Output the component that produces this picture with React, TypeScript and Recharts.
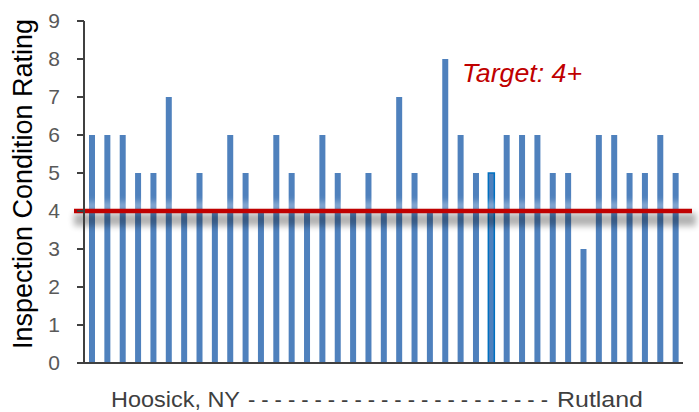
import React from 'react';
import { BarChart, Bar, XAxis, YAxis, ReferenceLine, Cell } from 'recharts';

// bridges along the route, Hoosick NY -> Rutland
const bridges = [
  '1', '2', '3', '4', '5', '6', '7', '8', '9', '10',
  '11', '12', '13', '14', '15', '16', '17', '18', '19', '20',
  '21', '22', '23', '24', '25', '26', '27', '28', '29', '30',
  '31', '32', '33', '34', '35', '36', '37', '38', '39',
];
const ratings = [
  6, 6, 6, 5, 5, 7, 4, 5, 4, 6,
  5, 4, 6, 5, 4, 6, 5, 4, 5, 4,
  7, 5, 4, 8, 6, 5, 5, 6, 6, 6,
  5, 5, 3, 6, 6, 5, 5, 6, 5,
];
const yTicks = [0, 1, 2, 3, 4, 5, 6, 7, 8, 9];
const target = 4;
const highlightedBridge = '27';

const data = bridges.map((b, i) => ({ bridge: b, rating: ratings[i] }));

const BAR = '#4F81BD';
const RED = '#C00000';
const AXIS = '#404040';
const FONT = '"Liberation Sans", Arial, sans-serif';

const TargetLine = (props: any) => {
  const { x1, x2, y1 } = props;
  const left = x1 - 10;
  const right = x2 + 9;
  return (
    <g>
      <defs>
        <filter id="lineShadow" x="-5%" y="-200%" width="110%" height="500%">
          <feGaussianBlur stdDeviation="3" />
        </filter>
      </defs>
      <rect x={left} y={y1 - 9} width={right - left + 4} height={8} fill="#ffffff" opacity={0.35} filter="url(#lineShadow)" />
      <rect x={left} y={y1 + 2} width={right - left + 4} height={13} fill="#000000" opacity={0.3} filter="url(#lineShadow)" />
      <line x1={left} x2={right} y1={y1} y2={y1} stroke={RED} strokeWidth={4.5} />
      <text x={462} y={82} fill={RED} fontSize={25} fontStyle="italic" fontFamily={FONT} textLength={120} lengthAdjust="spacingAndGlyphs">
        Target: 4+
      </text>
    </g>
  );
};

const YLabel = () => (
  <text
    x={32}
    y={184}
    transform="rotate(-90, 32, 184)"
    textAnchor="middle"
    fill="#000"
    fontSize={27}
    fontFamily={FONT}
  >
    Inspection Condition Rating
  </text>
);

const RouteLabel = () => (
  <g fill="#3f3f3f" fontSize={22} fontFamily={FONT}>
    <text x={111} y={407} textLength={129} lengthAdjust="spacingAndGlyphs">Hoosick, NY</text>
    <text x={248} y={407} textLength={300} lengthAdjust="spacing">
      {Array(23).fill('-').join(' ')}
    </text>
    <text x={557} y={407} textLength={86} lengthAdjust="spacingAndGlyphs">Rutland</text>
  </g>
);

export default function App() {
  return (
    <div style={{ position: 'absolute', left: 0, top: 0, width: 699, height: 412, background: '#fff' }}>
      <BarChart width={699} height={412} data={data} margin={{ top: 21, right: 16, bottom: 0, left: 0 }}>
        <XAxis
          dataKey="bridge"
          height={49}
          tick={false}
          tickLine={false}
          axisLine={{ stroke: AXIS, strokeWidth: 2 }}
          label={<RouteLabel />}
        />
        <YAxis
          width={84}
          domain={[0, 9]}
          ticks={yTicks}
          interval={0}
          tickSize={7}
          tickMargin={17}
          tickLine={{ stroke: AXIS, strokeWidth: 2 }}
          axisLine={{ stroke: AXIS, strokeWidth: 2 }}
          tick={{ fill: '#595959', fontSize: 21, fontFamily: FONT }}
          label={<YLabel />}
        />
        <Bar dataKey="rating" fill={BAR} barSize={6} isAnimationActive={false}>
          {data.map((d) => (
            <Cell
              key={d.bridge}
              fill={BAR}
              stroke={d.bridge === highlightedBridge ? '#0070C0' : 'none'}
              strokeWidth={d.bridge === highlightedBridge ? 1.5 : 0}
            />
          ))}
        </Bar>
        <ReferenceLine y={target} shape={TargetLine} ifOverflow="visible" />
      </BarChart>
    </div>
  );
}
